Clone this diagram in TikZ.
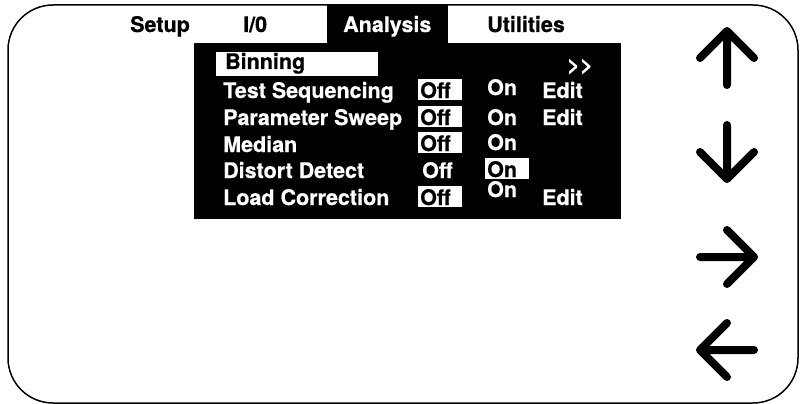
\documentclass[tikz,border=0pt]{standalone}
\usepackage{fontspec}
\setmainfont{TeX Gyre Heros}[BoldFeatures={FakeBold=0.6}]
\tikzset{
  menu/.style={font=\fontsize{21.5}{24}\selectfont\bfseries, inner sep=0pt, anchor=base west},
  inv/.style={menu, text=white},
  selbox/.style={menu, fill=white, text=black, text height=19pt, text depth=2pt,
    inner xsep=2pt, text width=40pt, align=left},
  navkey/.pic={\draw[line width=8pt, line cap=round, line join=round]
    (-27,0) -- (27,0) (0,-27) -- (27,0) -- (0,27);}
}
\begin{document}
\begin{tikzpicture}[x=1pt,y=-1pt]
    \useasboundingbox (0,0) rectangle (800,404);
    % frame of the screen
    \draw[line width=1.5pt, rounded corners=45pt] (8,5) rectangle (798,403);
    % active tab and menu panel
    \fill (327,5) rectangle (448,44);
    \fill (194,43) rectangle (621,219);
    % tabs
    \node[menu] (setup) at (130,32) {Setup};
    \node[menu] (io) at (243,32) {I/0};
    \node[inv] (analysis) at (343,32) {Analysis};
    \node[menu] (utilities) at (487,32) {Utilities};
    % menu entries
    \node[menu, fill=white, text height=17pt, text depth=7pt, inner xsep=9pt,
      text width=144pt, align=left] (binning) at (216,69) {Binning};
    \node[inv] (more) at (567,72) {>\kern0.5pt>};
    \node[inv] (testseq) at (223,98) {Test Sequencing};
    \node[inv] (sweep) at (223,125) {Parameter Sweep};
    \node[inv] (median) at (223,152) {Median};
    \node[inv] (distort) at (223,178) {Distort Detect};
    \node[inv] (loadcorr) at (223,205) {Load Correction};
    % Off column
    \node[selbox] (testseqoff) at (418,98) {Off};
    \node[selbox] (sweepoff) at (418,125) {Off};
    \node[selbox] (medianoff) at (418,151) {Off};
    \node[inv] (distortoff) at (422,178) {Off};
    \node[selbox] (loadcorroff) at (418,205) {Off};
    % On column
    \node[inv] (testseqon) at (487,95) {On};
    \node[inv] (sweepon) at (487,125) {On};
    \node[inv] (medianon) at (487,150) {On};
    \node[selbox] (distorton) at (485,177) {On};
    \node[inv] (loadcorron) at (487,197) {On};
    % Edit column
    \node[inv] (testseqedit) at (542,98) {Edit};
    \node[inv] (sweepedit) at (542,125) {Edit};
    \node[inv] (loadcorredit) at (542,205) {Edit};
    % navigation keys
    \pic[rotate=90] at (727,58) {navkey};
    \pic[rotate=-90] at (727,152) {navkey};
    \pic at (727,257) {navkey};
    \pic[rotate=180] at (727,350) {navkey};
\end{tikzpicture}
\end{document}
